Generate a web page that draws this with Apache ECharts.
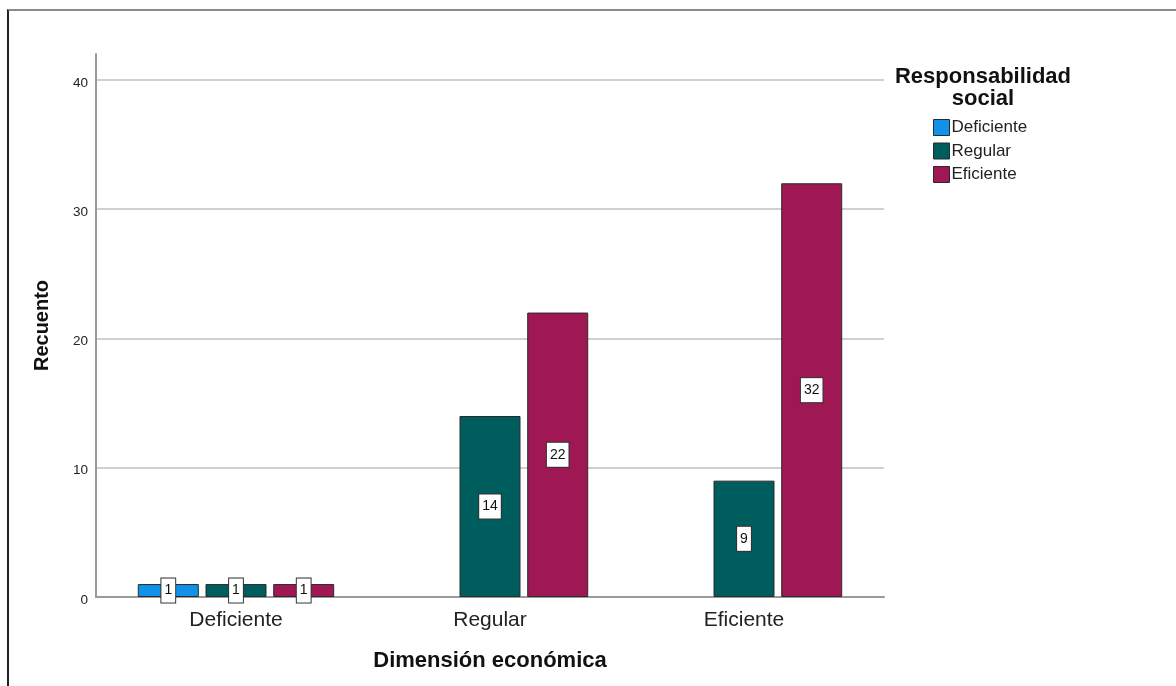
<!DOCTYPE html>
<html>
<head>
<meta charset="utf-8">
<script src="https://cdn.jsdelivr.net/npm/echarts@6/dist/echarts.min.js"></script>
<style>
html,body{margin:0;padding:0;background:#fff;}
#c{position:absolute;left:0;top:0;width:1176px;height:686px;}
#frame{position:absolute;left:7px;top:9px;width:1200px;height:700px;border-top:2px solid #8a8a8a;border-left:2px solid #222;pointer-events:none;}
</style>
</head>
<body>
<div id="c"></div>
<div id="frame"></div>
<script>
var categories = ['Deficiente', 'Regular', 'Eficiente'];
var seriesNames = ['Deficiente', 'Regular', 'Eficiente'];
var valuesDeficiente = [1, null, null];
var valuesRegular = [1, 14, 9];
var valuesEficiente = [1, 22, 32];
var yTicks = [0, 10, 20, 30, 40];
var colors = ['#1192e8', '#005d5d', '#9f1853'];

var font = 'Liberation Sans, Arial, sans-serif';
var chart = echarts.init(document.getElementById('c'));
var allValues = [valuesDeficiente, valuesRegular, valuesEficiente];

var series = allValues.map(function (vals, i) {
  return {
    name: seriesNames[i],
    type: 'bar',
    xAxisIndex: 1,
    yAxisIndex: 1,
    data: vals,
    barWidth: 61,
    barGap: '11%',
    itemStyle: { color: colors[i], borderColor: '#2a2a2a', borderWidth: 1 },
    label: {
      show: true,
      position: 'inside',
      color: '#111',
      fontFamily: font,
      fontSize: 14,
      lineHeight: 16,
      backgroundColor: '#fff',
      borderColor: '#333',
      borderWidth: 1,
      padding: [4, 3, 4, 3]
    },
    emphasis: { disabled: true },
    animation: false
  };
});

chart.setOption({
  animation: false,
  textStyle: { fontFamily: font },
  title: {
    text: 'Responsabilidad\nsocial',
    left: 978,
    top: 61,
    textAlign: 'center',
    textStyle: { fontFamily: font, fontSize: 22, fontWeight: 'bold', color: '#111', lineHeight: 22 }
  },
  legend: {
    data: seriesNames,
    orient: 'vertical',
    left: 928,
    top: 114,
    itemWidth: 16,
    itemHeight: 16,
    itemGap: 6.5,
    icon: 'rect',
    selectedMode: false,
    itemStyle: { borderColor: '#2a2a2a', borderWidth: 1 },
    textStyle: { fontFamily: font, fontSize: 17, lineHeight: 16, color: '#222', padding: [0, 0, 0, -3] }
  },
  grid: [
    { left: 96, right: 292, top: 54, bottom: 89 },
    { left: 109, right: 305, top: 54, bottom: 89 }
  ],
  xAxis: [
    {
      type: 'category', gridIndex: 0, data: categories,
      axisLine: { show: true, lineStyle: { color: '#9a9a9a', width: 2 } },
      axisTick: { show: false }, axisLabel: { show: false }, splitLine: { show: false }
    },
    {
      type: 'category', gridIndex: 1, data: categories,
      axisLine: { show: false }, axisTick: { show: false },
      axisLabel: { fontFamily: font, fontSize: 21, color: '#222', margin: 13 },
      name: 'Dimensión económica', nameLocation: 'middle', nameGap: 53,
      nameTextStyle: { fontFamily: font, fontSize: 22, fontWeight: 'bold', color: '#111' }
    }
  ],
  yAxis: [
    {
      type: 'value', gridIndex: 0, min: 0, max: 42, interval: 10,
      axisLine: { show: true, lineStyle: { color: '#9a9a9a', width: 2 } },
      axisTick: { show: false },
      axisLabel: {
        fontFamily: font, fontSize: 13.5, color: '#222', margin: 8,
        verticalAlign: 'top', lineHeight: 6,
        formatter: function (v) { return yTicks.indexOf(v) >= 0 ? String(v) : ''; }
      },
      splitLine: { show: true, showMaxLine: false, lineStyle: { color: '#d0d0d0', width: 2 } },
      name: 'Recuento', nameLocation: 'middle', nameGap: 44, nameRotate: 90,
      nameTextStyle: { fontFamily: font, fontSize: 20, fontWeight: 'bold', color: '#111' }
    },
    {
      type: 'value', gridIndex: 1, min: 0, max: 42, interval: 10, show: false,
      splitLine: { show: false }
    }
  ],
  series: series
});
</script>
</body>
</html>
